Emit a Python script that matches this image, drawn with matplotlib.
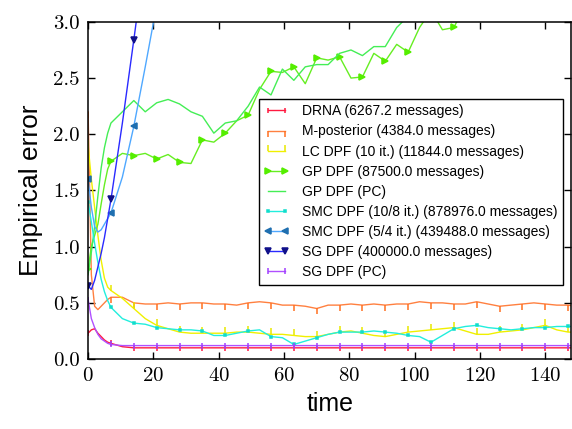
import matplotlib
matplotlib.use("Agg")
import matplotlib.pyplot as plt
import numpy as np

plt.rcParams["font.family"] = ["Liberation Sans", "DejaVu Sans"]
plt.rcParams["axes.formatter.use_mathtext"] = True

# sample times: every step early on, then every 3.5 time units
time = np.concatenate([np.arange(0, 8), np.arange(10.5, 148, 3.5), [149.0]])

drna = [0.23, 0.26, 0.27, 0.23, 0.20, 0.17, 0.15, 0.14,
        0.11, 0.10, 0.10, 0.10, 0.10, 0.10, 0.10, 0.10, 0.10, 0.10, 0.10, 0.10,
        0.10, 0.10, 0.10, 0.10, 0.10, 0.10, 0.10, 0.10, 0.10, 0.10, 0.10, 0.10,
        0.10, 0.10, 0.10, 0.10, 0.10, 0.10, 0.10, 0.10, 0.10, 0.10, 0.10, 0.10,
        0.10, 0.10, 0.10, 0.10, 0.10]
m_posterior = [2.20, 0.75, 0.47, 0.44, 0.47, 0.50, 0.53, 0.55,
               0.55, 0.50, 0.49, 0.49, 0.50, 0.49, 0.50, 0.50, 0.49, 0.49, 0.48, 0.50,
               0.51, 0.50, 0.48, 0.48, 0.47, 0.45, 0.48, 0.48, 0.49, 0.48, 0.49, 0.48,
               0.49, 0.49, 0.51, 0.50, 0.50, 0.49, 0.49, 0.51, 0.49, 0.47, 0.48, 0.49,
               0.50, 0.49, 0.48, 0.48, 0.47]
lc_dpf = [1.90, 1.60, 1.35, 1.10, 0.88, 0.72, 0.64, 0.61,
          0.54, 0.45, 0.36, 0.30, 0.27, 0.24, 0.23, 0.23, 0.23, 0.23, 0.24, 0.24,
          0.23, 0.22, 0.22, 0.21, 0.20, 0.20, 0.22, 0.24, 0.25, 0.23, 0.21, 0.20,
          0.22, 0.24, 0.25, 0.26, 0.27, 0.28, 0.25, 0.22, 0.22, 0.24, 0.25, 0.26,
          0.28, 0.30, 0.26, 0.24, 0.24]
gp_dpf = [0.80, 1.00, 1.10, 1.20, 1.38, 1.55, 1.69, 1.76,
          1.83, 1.81, 1.83, 1.78, 1.82, 1.75, 1.74, 1.95, 1.93, 2.01, 2.12, 2.17,
          2.40, 2.56, 2.55, 2.60, 2.45, 2.68, 2.66, 2.69, 2.50, 2.51, 2.72, 2.65,
          2.80, 2.73, 2.95, 3.10, 2.93, 2.95, 3.15, 3.25, 3.30, 3.35, 3.40, 3.45,
          3.50, 3.50, 3.55, 3.60, 3.60]
gp_dpf_pc = [0.75, 0.95, 1.18, 1.45, 1.70, 1.88, 2.01, 2.10,
             2.20, 2.30, 2.20, 2.28, 2.31, 2.27, 2.20, 2.16, 2.01, 2.10, 2.12, 2.25,
             2.42, 2.35, 2.58, 2.48, 2.60, 2.62, 2.62, 2.72, 2.75, 2.70, 2.78, 2.78,
             2.95, 3.05, 3.15, 3.20, 3.25, 3.30, 3.30, 3.35, 3.40, 3.40, 3.45, 3.50,
             3.50, 3.55, 3.55, 3.60, 3.60]
smc_10_8 = [1.40, 1.22, 1.03, 0.86, 0.71, 0.60, 0.52, 0.46,
            0.36, 0.32, 0.31, 0.28, 0.27, 0.26, 0.26, 0.25, 0.21, 0.21, 0.23, 0.25,
            0.26, 0.20, 0.19, 0.13, 0.16, 0.19, 0.22, 0.24, 0.24, 0.24, 0.25, 0.24,
            0.23, 0.21, 0.20, 0.15, 0.21, 0.27, 0.29, 0.30, 0.28, 0.27, 0.26, 0.27,
            0.28, 0.28, 0.29, 0.29, 0.29]
smc_5_4 = [1.60, 1.35, 1.18, 1.13, 1.15, 1.20, 1.25, 1.30, 1.62, 2.07, 2.60, 3.15]
sg_dpf = [0.65, 0.62, 0.70, 0.82, 0.94, 1.08, 1.25, 1.42, 2.10, 2.84, 3.60]
sg_dpf_pc = [0.53, 0.36, 0.28, 0.22, 0.18, 0.16, 0.14, 0.13,
             0.12, 0.12, 0.12, 0.12, 0.12, 0.12, 0.12, 0.12, 0.12, 0.12, 0.12, 0.12,
             0.12, 0.12, 0.12, 0.12, 0.12, 0.12, 0.12, 0.12, 0.12, 0.12, 0.12, 0.12,
             0.12, 0.12, 0.12, 0.12, 0.12, 0.12, 0.12, 0.12, 0.12, 0.12, 0.12, 0.12,
             0.12, 0.12, 0.12, 0.12, 0.12]

labels = [
    "DRNA (6267.2 messages)",
    "M-posterior (4384.0 messages)",
    "LC DPF (10 it.) (11844.0 messages)",
    "GP DPF (87500.0 messages)",
    "GP DPF (PC)",
    "SMC DPF (10/8 it.) (878976.0 messages)",
    "SMC DPF (5/4 it.) (439488.0 messages)",
    "SG DPF (400000.0 messages)",
    "SG DPF (PC)",
]
series = [drna, m_posterior, lc_dpf, gp_dpf, gp_dpf_pc, smc_10_8, smc_5_4, sg_dpf, sg_dpf_pc]

# (line colour, marker, marker size, marker colour)
styles = [
    ("#ff1a40", "|", 4, "#ff1a40"),
    ("#ff8040", 3, 4.5, "#ff7020"),
    ("#f0f000", 2, 4.5, "#e8e800"),
    ("#66ee22", ">", 5, "#55ee00"),
    ("#44ee55", None, 0, "#44ee55"),
    ("#22eedd", "s", 2, "#11ddcc"),
    ("#4fa8ff", "<", 5, "#1f6fb0"),
    ("#2a2aff", "v", 5, "#10108a"),
    ("#b050ff", "|", 4.5, "#a040ff"),
]

fig = plt.figure(figsize=(5.72, 4.29), dpi=100)
ax = fig.add_axes([0.154, 0.163, 0.845, 0.786])

for vals, label, (color, marker, ms, mcolor) in zip(series, labels, styles):
    t = time[: len(vals)]
    every = [i for i, ti in enumerate(t) if ti % 7 == 0]
    ax.plot(t, vals, color=color, lw=1.0, marker=marker, ms=ms,
            markevery=every, mfc=mcolor, mec=mcolor, mew=1.1, label=label)

ax.set_xlim(0, 148)
ax.set_ylim(0, 3.0)
ax.set_xticks(np.arange(0, 141, 20))
ax.set_yticks(np.arange(0, 3.01, 0.5))
ax.yaxis.set_major_formatter(matplotlib.ticker.FormatStrFormatter("%.1f"))
ax.tick_params(direction="in", top=True, right=True, length=5, width=1,
               labelsize=15, labelfontfamily="cmr10", pad=6)
for sp in ax.spines.values():
    sp.set_linewidth(1.1)

ax.set_xlabel("time", fontsize=18, labelpad=5)
ax.set_ylabel("Empirical error", fontsize=19, labelpad=7)

leg = ax.legend(loc="upper left", bbox_to_anchor=(0.353, 0.772), borderaxespad=0,
                fancybox=False, edgecolor="black", framealpha=1, fontsize=10,
                numpoints=2, handlelength=1.8, handletextpad=0.9, markerscale=0.9,
                labelspacing=0.44, borderpad=0.4)
leg.get_frame().set_linewidth(1.0)

fig.savefig("out.png", dpi=100)
